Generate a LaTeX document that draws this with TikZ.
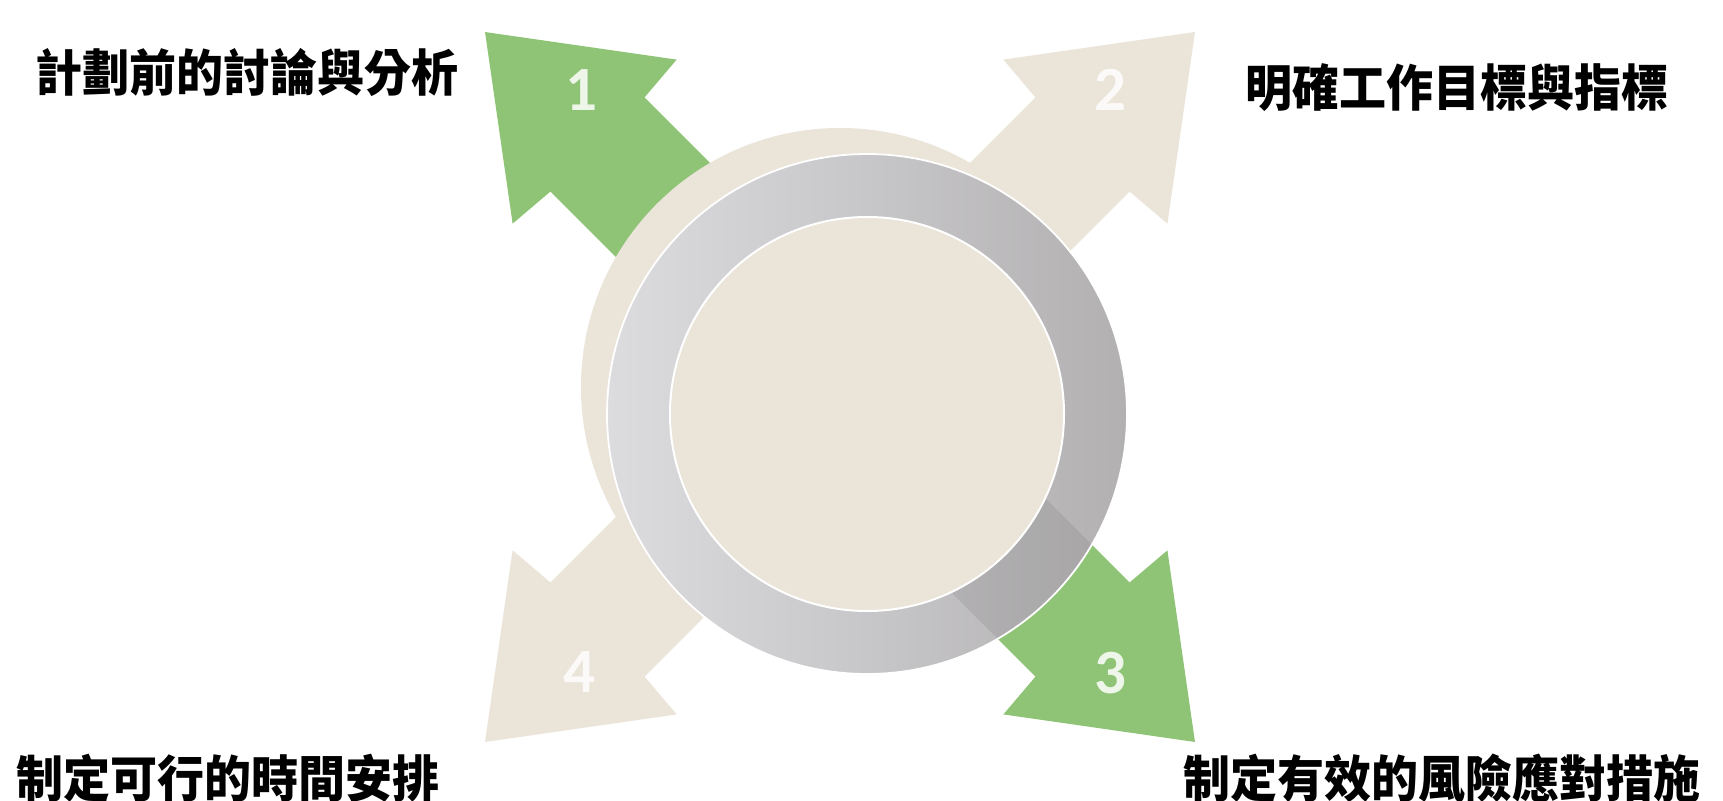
\documentclass[tikz,border=0pt]{standalone}
\usepackage{fontspec}
\newfontfamily\cjk{Noto Sans CJK TC}
\newfontfamily\numfont{Carlito}
\definecolor{beige}{HTML}{EAE4D9}
\definecolor{leafgreen}{HTML}{8FC476}
\definecolor{ringlight}{HTML}{DCDCDF}
\definecolor{ringdark}{HTML}{B2B0B1}
\tikzset{
  pics/bigarrow/.style={code={
    \fill[#1] (0,-66.5) -- (343,-66.5) -- (347,-116) -- (502,0) -- (347,116) -- (343,66.5) -- (0,66.5) -- cycle;}},
  numlbl/.style={font=\numfont\bfseries\fontsize{63}{63}\selectfont, text=white, text opacity=0.85, inner sep=0pt},
  steplbl/.style={font=\cjk\bfseries\fontsize{50}{50}\selectfont, text=black, inner sep=0pt, xscale=0.94}
}
\begin{document}
\begin{tikzpicture}[x=1pt,y=-1pt]
\useasboundingbox (0,0) rectangle (1723,800);
\fill[white] (0,0) rectangle (1723,800);
% arrows
\pic[rotate=135] at (840,387) {bigarrow=leafgreen};
\pic[rotate=45] at (840,387) {bigarrow=beige};
\pic[rotate=-45] at (840,387) {bigarrow=leafgreen};
\pic[rotate=225] at (840,387) {bigarrow=beige};
% back disc
\fill[beige] (840,387) circle (259pt);
% ring
\path[left color=ringlight, right color=ringdark, even odd rule] (867,414) circle (260pt) (867,414) circle (197pt);
\begin{scope}
  \clip[shift={(840,387)}, rotate=-45] (0,-66.5) -- (343,-66.5) -- (347,-116) -- (502,0) -- (347,116) -- (343,66.5) -- (0,66.5) -- cycle;
  \fill[black, opacity=0.07, even odd rule] (867,414) circle (260pt) (867,414) circle (197pt);
\end{scope}
\draw[white, line width=1.8pt] (867,414) circle (260pt);
\fill[beige] (867,414) circle (197pt);
\draw[white, line width=2pt] (867,414) circle (197pt);
% numbers
\node[numlbl] (n1) at (581,90) {1};
\node[numlbl] (n2) at (1110,90) {2};
\node[numlbl] (n3) at (1110,673) {3};
\node[numlbl] (n4) at (579,672) {4};
% labels
\node[steplbl] (t1) at (247,73) {計劃前的討論與分析};
\node[steplbl] (t2) at (1457,88) {明確工作目標與指標};
\node[steplbl] (t3) at (1442,778) {制定有效的風險應對措施};
\node[steplbl] (t4) at (228,778) {制定可行的時間安排};
\end{tikzpicture}
\end{document}
